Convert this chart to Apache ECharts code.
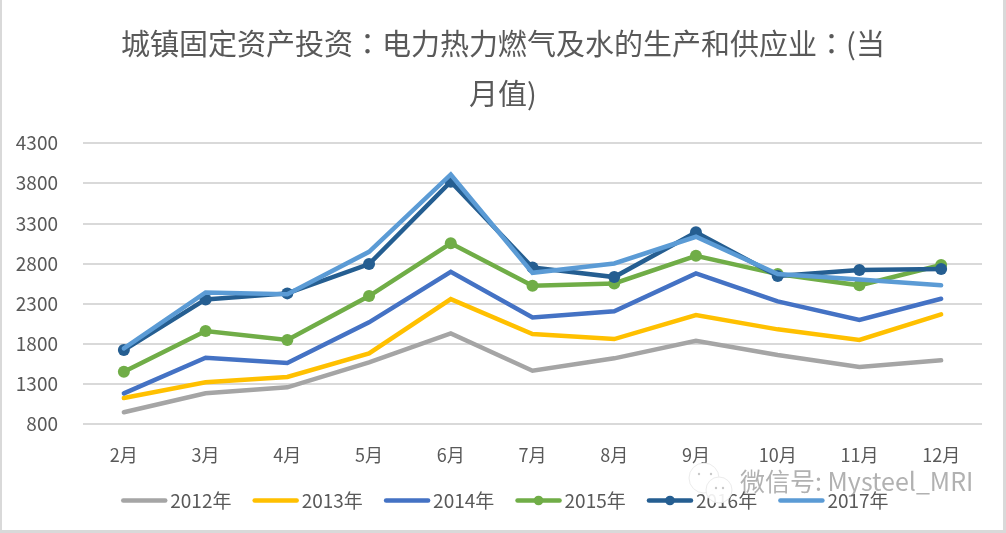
<!DOCTYPE html>
<html>
<head>
<meta charset="utf-8">
<title>chart</title>
<script src="https://cdn.jsdelivr.net/npm/echarts@6/dist/echarts.min.js"></script>
<style>
html,body{margin:0;padding:0;background:#fff;}
#main{width:1006px;height:533px;}
</style>
</head>
<body>
<div id="main"></div>
<script>
var months = ['2月','3月','4月','5月','6月','7月','8月','9月','10月','11月','12月'];
var y2012 = [946,1182,1257,1568,1929,1464,1618,1837,1659,1509,1593];
var y2013 = [1124,1319,1385,1680,2356,1920,1858,2157,1979,1846,2165];
var y2014 = [1182,1625,1559,2066,2696,2128,2203,2676,2327,2095,2360];
var y2015 = [1451,1958,1846,2394,3050,2522,2551,2895,2667,2527,2780];
var y2016 = [1721,2352,2427,2792,3817,2750,2630,3187,2643,2717,2730];
var y2017 = [1742,2439,2415,2945,3908,2683,2800,3132,2667,2600,2527];

var font = '"Noto Sans CJK SC", sans-serif';
var noMark = {color: 'transparent'};

function line(name, data, color, marker, z) {
    return {
        name: name,
        type: 'line',
        z: z,
        data: data,
        symbol: marker ? 'circle' : 'none',
        symbolSize: 12,
        showSymbol: marker,
        lineStyle: {color: color, width: 4.5, cap: 'round', join: 'miter'},
        itemStyle: {color: color}
    };
}

// wechat watermark bubbles, they sit over the legend
function bubble(cx, cy, r) {
    return {type: 'circle', z: 100, shape: {cx: cx, cy: cy, r: r},
        style: {fill: 'rgba(255,255,255,0.9)', stroke: '#ececec', lineWidth: 1}};
}
function eye(cx, cy) {
    return {type: 'circle', z: 101, shape: {cx: cx, cy: cy, r: 1.2}, style: {fill: '#c8c8c8'}};
}

var myChart = echarts.init(document.getElementById('main'), null, {renderer: 'canvas'});
myChart.setOption({
    animation: false,
    backgroundColor: '#fff',
    title: {
        text: '城镇固定资产投资：电力热力燃气及水的生产和供应业：(当\n月值)',
        left: 498,
        top: 14,
        textAlign: 'center',
        textStyle: {color: '#595959', fontSize: 29, fontWeight: 'normal', fontFamily: '"Noto Sans CJK TC", sans-serif', lineHeight: 50}
    },
    legend: {
        left: 121,
        top: 491,
        padding: 0,
        itemWidth: 42,
        itemHeight: 12,
        itemGap: 21,
        lineStyle: {width: 4.5, cap: 'round'},
        textStyle: {color: '#595959', fontSize: 19, fontFamily: font},
        data: [
            {name: '2012年', itemStyle: noMark},
            {name: '2013年', itemStyle: noMark},
            {name: '2014年', itemStyle: noMark},
            {name: '2015年'},
            {name: '2016年'},
            {name: '2017年', itemStyle: noMark}
        ]
    },
    grid: {left: 83, right: 24, top: 143, height: 281},
    xAxis: {
        type: 'category',
        data: months,
        axisLine: {show: false},
        axisTick: {show: false},
        axisLabel: {color: '#595959', fontSize: 18, fontFamily: font, margin: 22}
    },
    yAxis: {
        type: 'value',
        min: 800,
        max: 4300,
        interval: 500,
        axisLine: {show: false},
        axisTick: {show: false},
        axisLabel: {color: '#595959', fontSize: 19, fontFamily: font, margin: 25, formatter: function (v) { return String(v); }},
        splitLine: {lineStyle: {color: '#d9d9d9', width: 2}}
    },
    series: [
        line('2012年', y2012, '#a5a5a5', false, 2),
        line('2013年', y2013, '#ffc000', false, 3),
        line('2014年', y2014, '#4472c4', false, 4),
        line('2015年', y2015, '#70ad47', true, 5),
        line('2016年', y2016, '#255e91', true, 6),
        line('2017年', y2017, '#5b9bd5', false, 7)
    ],
    graphic: [
        {type: 'rect', shape: {x: 0, y: 0, width: 2, height: 533}, style: {fill: '#d9d9d9'}},
        {type: 'rect', shape: {x: 1003, y: 0, width: 3, height: 533}, style: {fill: '#d9d9d9'}},
        {type: 'rect', shape: {x: 0, y: 530, width: 1006, height: 3}, style: {fill: '#d9d9d9'}},
        bubble(704, 478, 15),
        eye(699, 474), eye(711, 474),
        bubble(719, 490, 13),
        eye(716, 488), eye(723, 488),
        {type: 'text', left: 740, top: 469, z: 100, style: {text: '微信号: Mysteel_MRI', fill: 'rgba(125,125,125,0.6)', font: '25px ' + font}}
    ]
});
</script>
</body>
</html>
